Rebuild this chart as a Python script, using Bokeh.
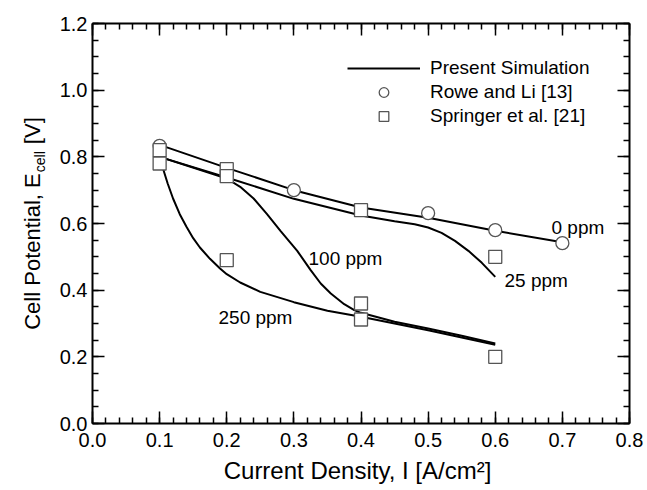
import math
from bokeh.plotting import figure
from bokeh.models import (LinearAxis, FixedTicker, PrintfTickFormatter,
                          CustomJSTickFormatter, Legend, LegendItem, Label, Range1d)
from bokeh.embed import file_html
from bokeh.resources import INLINE

# ---------------- data ----------------
x_sim_0 = [0.1, 0.2, 0.3, 0.4, 0.5, 0.6, 0.7]
y_sim_0 = [0.836, 0.767, 0.700, 0.648, 0.617, 0.578, 0.544]

x_sim_25 = [0.1, 0.2, 0.3, 0.4, 0.45, 0.48, 0.5, 0.52, 0.54, 0.56, 0.58, 0.6]
y_sim_25 = [0.800, 0.738, 0.674, 0.624, 0.607, 0.598, 0.588, 0.572, 0.548, 0.518, 0.482, 0.440]

x_sim_100 = [0.1, 0.2, 0.22, 0.24, 0.26, 0.28, 0.305, 0.325, 0.34, 0.355, 0.375, 0.39, 0.4, 0.45, 0.5, 0.55, 0.6]
y_sim_100 = [0.800, 0.735, 0.710, 0.675, 0.628, 0.578, 0.518, 0.460, 0.420, 0.390, 0.358, 0.340, 0.332, 0.305, 0.285, 0.263, 0.240]

x_sim_250 = [0.1, 0.105, 0.112, 0.12, 0.13, 0.14, 0.15, 0.16, 0.175, 0.19, 0.2, 0.22, 0.25, 0.3, 0.35, 0.4, 0.45, 0.5, 0.55, 0.6]
y_sim_250 = [0.800, 0.765, 0.720, 0.675, 0.628, 0.590, 0.556, 0.528, 0.494, 0.465, 0.448, 0.423, 0.395, 0.364, 0.338, 0.320, 0.300, 0.280, 0.258, 0.236]

x_rowe = [0.1, 0.3, 0.5, 0.6, 0.7]
y_rowe = [0.833, 0.700, 0.631, 0.580, 0.541]

x_springer = [0.1, 0.1, 0.2, 0.2, 0.2, 0.4, 0.4, 0.4, 0.6, 0.6]
y_springer = [0.820, 0.780, 0.763, 0.742, 0.490, 0.640, 0.360, 0.312, 0.500, 0.200]

curve_labels = ["0 ppm", "25 ppm", "100 ppm", "250 ppm"]
legend_labels = ["Present Simulation", "Rowe and Li [13]", "Springer et al. [21]"]
x_ticks = [0.0, 0.1, 0.2, 0.3, 0.4, 0.5, 0.6, 0.7, 0.8]
y_ticks = [0.0, 0.2, 0.4, 0.6, 0.8, 1.0, 1.2]
x_title = "Current Density, I [A/cm\u00b2]"
y_title_main, y_title_sub, y_title_end = "Cell Potential, E", "cell", "[V]"

# ---------------- layout ----------------
W, H = 647, 490
AXL, MR, MT, MB = 92, 18, 23, 67          # pixel margins around the plot box
X0, X1, Y0, Y1 = 0.0, 0.8, 0.0, 1.2
PPX = (W - AXL - MR) / (X1 - X0)          # pixels per x unit
PPY = (H - MT - MB) / (Y1 - Y0)           # pixels per y unit
FONT = "Liberation Sans"

def px2x(px):
    return X0 + (px - AXL) / PPX

def px2y(py):
    return Y0 + (H - MB - py) / PPY

x_minor = [round(i * 0.02, 4) for i in range(0, 41)]
y_minor = [round(i * 0.05, 4) for i in range(0, 25)]

# the frame covers the whole canvas; the box is drawn by four fixed-location axes
p = figure(width=W, height=H, output_backend="svg", toolbar_location=None,
           x_range=Range1d(px2x(0), px2x(W)), y_range=Range1d(px2y(H), px2y(0)),
           min_border_left=0, min_border_right=0, min_border_top=0, min_border_bottom=0)
p.grid.visible = False
p.outline_line_color = None
p.background_fill_color = "white"
p.border_fill_color = "white"

def style_axis(ax):
    ax.axis_line_width = 2
    ax.axis_line_color = "black"
    ax.major_tick_in = 12
    ax.major_tick_out = 0
    ax.minor_tick_in = 6
    ax.minor_tick_out = 0
    ax.major_tick_line_width = 1.5
    ax.minor_tick_line_width = 1.5
    ax.major_label_text_font = FONT
    ax.major_label_text_font_size = "20px"
    ax.major_label_text_color = "black"

xax = p.xaxis[0]
xax.ticker = FixedTicker(ticks=x_ticks, minor_ticks=x_minor)
xax.formatter = PrintfTickFormatter(format="%.1f")
xax.bounds = (X0, X1)
xax.fixed_location = Y0
style_axis(xax)
xax.major_label_standoff = 9

yax = p.yaxis[0]
yax.ticker = FixedTicker(ticks=y_ticks, minor_ticks=y_minor)
yax.formatter = PrintfTickFormatter(format="%.1f")
yax.bounds = (Y0, Y1)
yax.fixed_location = X0
style_axis(yax)
yax.major_label_standoff = 5

empty = CustomJSTickFormatter(code="return ''")
top = LinearAxis(ticker=FixedTicker(ticks=x_ticks, minor_ticks=x_minor), formatter=empty,
                 bounds=(X0, X1), fixed_location=Y1)
right = LinearAxis(ticker=FixedTicker(ticks=y_ticks, minor_ticks=y_minor), formatter=empty,
                   bounds=(Y0, Y1), fixed_location=X1)
for ax in (top, right):
    style_axis(ax)
    ax.major_label_text_font_size = "1px"
    ax.major_label_standoff = 0
p.add_layout(top, "above")
p.add_layout(right, "right")

# ---------------- curves & points ----------------
line_kw = dict(line_color="black", line_width=2)
r0 = p.line(x_sim_0, y_sim_0, **line_kw)
p.line(x_sim_25, y_sim_25, **line_kw)
p.line(x_sim_100, y_sim_100, **line_kw)
p.line(x_sim_250, y_sim_250, **line_kw)

mk_kw = dict(size=13, fill_color="white", line_color="#555555", line_width=1.3)
rc = p.scatter(x_rowe, y_rowe, marker="circle", **mk_kw)
rs = p.scatter(x_springer, y_springer, marker="square", **mk_kw)

# ---------------- curve annotations ----------------
ann_pos = [(551, 226.7), (504, 280), (308, 257.5), (218, 316.7)]
for txt, (ax_px, ay_px) in zip(curve_labels, ann_pos):
    p.add_layout(Label(x=px2x(ax_px), y=px2y(ay_px), text=txt, text_font=FONT,
                       text_font_size="19px", text_color="black",
                       text_align="left", text_baseline="middle"))

# ---------------- legend ----------------
legend = Legend(items=[LegendItem(label=legend_labels[0], renderers=[r0]),
                       LegendItem(label=legend_labels[1], renderers=[rc]),
                       LegendItem(label=legend_labels[2], renderers=[rs])],
                location=(347, H - 128), glyph_width=73, glyph_height=24, spacing=0,
                label_standoff=10, label_height=24, padding=0, margin=0,
                border_line_color=None, background_fill_alpha=0,
                label_text_font=FONT, label_text_font_size="19px", label_text_color="black")
p.add_layout(legend)

# ---------------- axis titles ----------------
p.add_layout(Label(x=px2x(357), y=px2y(470), text=x_title, text_font=FONT,
                   text_font_size="24px", text_color="black",
                   text_align="center", text_baseline="middle"))

main_len = 7.114 * 22
total = main_len + 1 + 1.5 * 14 + 1 + 0.278 * 22 + 1.223 * 22
P = 223 + total / 2 - main_len   # pixel y where the main part ends
mid_x, sub_x = 32, 39.5
p.add_layout(Label(x=px2x(mid_x), y=px2y(P), text=y_title_main, angle=math.pi / 2,
                   text_font=FONT, text_font_size="22px", text_color="black",
                   text_align="right", text_baseline="middle"))
p.add_layout(Label(x=px2x(sub_x), y=px2y(P - 1), text=y_title_sub, angle=math.pi / 2,
                   text_font=FONT, text_font_size="14px", text_color="black",
                   text_align="left", text_baseline="middle"))
p.add_layout(Label(x=px2x(mid_x), y=px2y(P - 1 - 21 - 1 - 0.278 * 22), text=y_title_end,
                   angle=math.pi / 2, text_font=FONT, text_font_size="22px", text_color="black",
                   text_align="left", text_baseline="middle"))

open("out.html", "w").write(file_html(p, INLINE))
